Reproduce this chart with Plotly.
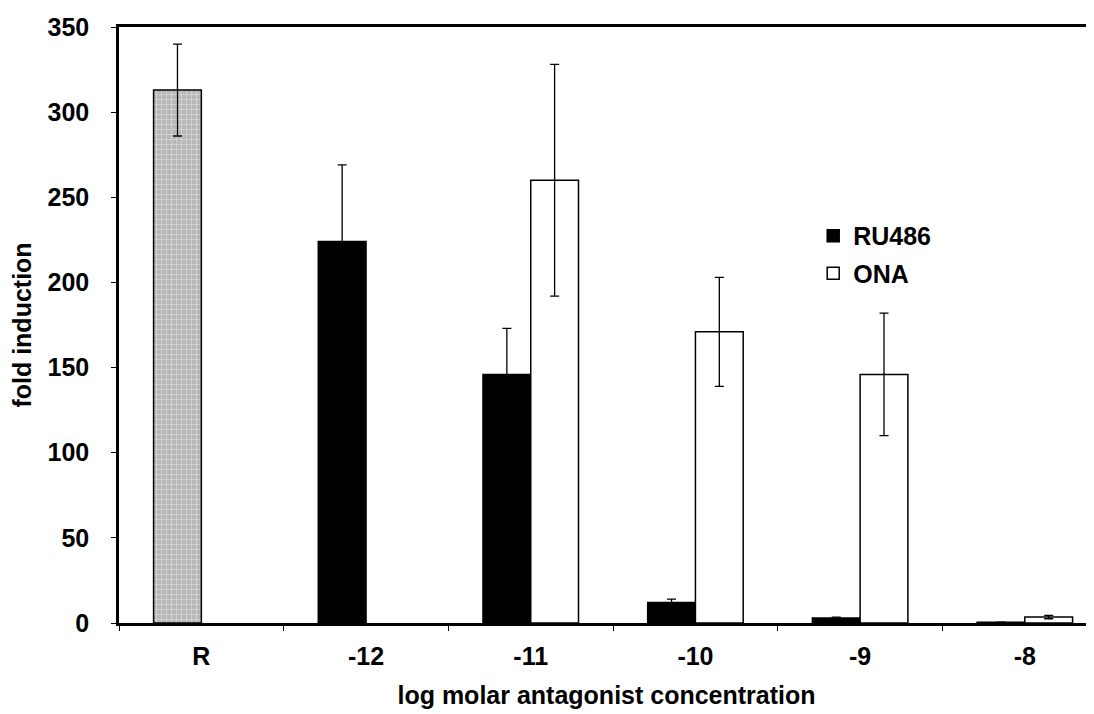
import plotly.graph_objects as go

categories = ["R", "-12", "-11", "-10", "-9", "-8"]

# Reference (no antagonist) bar, drawn in the RU486 slot
ref_values = [313, None, None, None, None, None]
ref_errors = [27, 0, 0, 0, 0, 0]

ru486_values = [None, 224, 146, 12, 3, 0.5]
ru486_errors = [0, 45, 27, 2, 0.5, 0]

ona_values = [None, None, 260, 171, 146, 3.5]
ona_errors = [0, 0, 68, 32, 36, 1]

y_ticks = [0, 50, 100, 150, 200, 250, 300, 350]

FONT = "Liberation Sans, Arial, sans-serif"
FS = 25

err_style = dict(type="data", visible=True, color="black", thickness=1.3, width=4.5)

fig = go.Figure()
fig.add_trace(go.Bar(
    x=categories, y=ref_values, name="R",
    offsetgroup="a", showlegend=False,
    marker=dict(color="#b8b8b8", line=dict(color="black", width=1.5),
                pattern=dict(shape="+", fgcolor="white", bgcolor="#b8b8b8",
                             size=5, solidity=0.25)),
    error_y=dict(array=ref_errors, **err_style),
))
fig.add_trace(go.Bar(
    x=categories, y=ru486_values, name="RU486",
    offsetgroup="a", legendgroup="a",
    marker=dict(color="black", line=dict(color="black", width=1.5)),
    error_y=dict(array=ru486_errors, **err_style),
))
fig.add_trace(go.Bar(
    x=categories, y=ona_values, name="ONA",
    offsetgroup="b", legendgroup="b",
    marker=dict(color="white", line=dict(color="black", width=1.5)),
    error_y=dict(array=ona_errors, **err_style),
))

fig.update_layout(
    width=1086, height=706,
    margin=dict(l=111, r=0, t=19, b=91),
    paper_bgcolor="white", plot_bgcolor="white",
    barmode="group", bargap=0.42, bargroupgap=0,
    font=dict(family=FONT, size=FS, color="black", weight="bold"),
    legend=dict(x=0.712, y=0.688, xanchor="left", yanchor="top",
                bgcolor="rgba(0,0,0,0)", font=dict(size=FS, weight="bold"),
                tracegroupgap=2, traceorder="grouped", itemwidth=30),
    showlegend=True,
)
fig.update_xaxes(
    type="category", range=[-0.5, 5.42],
    showline=True, linecolor="black", linewidth=2.5, mirror=True,
    ticks="outside", ticklen=5, tickcolor="black", tickwidth=1,
    tickson="boundaries", showgrid=False, zeroline=False,
    ticklabelstandoff=9,
    title=dict(text="log molar antagonist concentration", standoff=18,
               font=dict(size=FS, weight="bold")),
    tickfont=dict(size=FS, weight="bold"),
)
fig.update_yaxes(
    range=[0, 350], tickvals=y_ticks,
    showline=True, linecolor="black", linewidth=2.5,
    ticks="outside", ticklen=5, tickcolor="black", tickwidth=1,
    showgrid=False, zeroline=False, ticklabelstandoff=17,
    title=dict(text="fold induction", standoff=18,
               font=dict(size=FS, weight="bold")),
    tickfont=dict(size=FS, weight="bold"),
)

fig.write_html("out.html")
